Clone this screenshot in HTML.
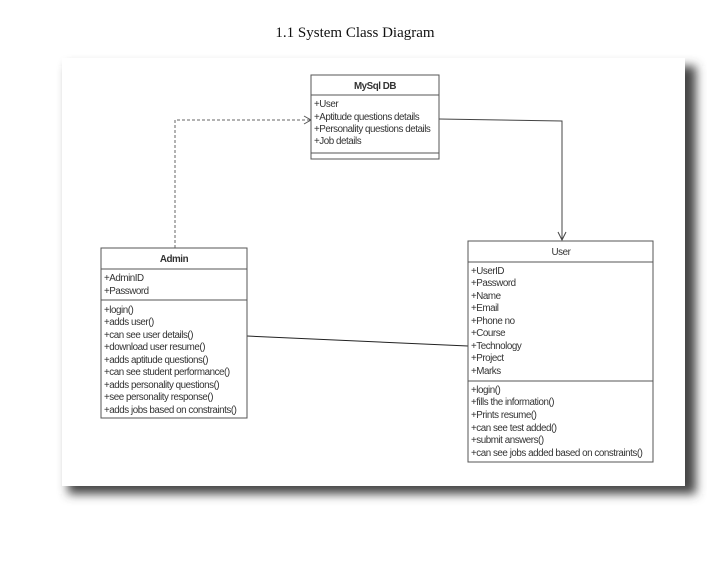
<!DOCTYPE html>
<html><head><style>
body{margin:0;background:#fff;width:707px;height:557px;overflow:hidden}
</style></head><body>
<svg width="707" height="557" xmlns="http://www.w3.org/2000/svg" font-family="Liberation Sans, Arial, sans-serif">
<defs>
<filter id="sh" x="-10%" y="-10%" width="130%" height="130%"><feGaussianBlur stdDeviation="5"/></filter>
</defs>
<text x="355" y="37" font-family="Liberation Serif, serif" font-size="15" text-anchor="middle" fill="#111">1.1 System Class Diagram</text>
<rect x="68" y="66" width="628" height="428" fill="#444" filter="url(#sh)"/>
<rect x="62" y="58" width="623" height="428" fill="#fff"/>
<g stroke="#333" fill="none">
<polyline points="175,248 175,120 310,120" stroke-dasharray="3,2" stroke="#666"/>
<polyline points="304,116 311,120 304,124" stroke="#555"/>
<polyline points="439,119 562,121 562,240" stroke="#444"/>
<polyline points="558,232 562,240 566,232" stroke="#444"/>
<line x1="247" y1="336" x2="468" y2="346" stroke="#222"/>
</g>
<g stroke="#555" fill="#fff" stroke-width="1">
<rect x="311" y="75" width="128" height="84"/>
<line x1="311" y1="95" x2="439" y2="95"/><line x1="311" y1="153" x2="439" y2="153"/>
<rect x="101" y="248" width="146" height="170"/>
<line x1="101" y1="269" x2="247" y2="269"/><line x1="101" y1="300" x2="247" y2="300"/>
<rect x="468" y="241" width="185" height="221"/>
<line x1="468" y1="262" x2="653" y2="262"/><line x1="468" y1="381" x2="653" y2="381"/>
</g>
<g font-size="9.8" fill="#333" letter-spacing="-0.45">
<text x="375" y="89" text-anchor="middle" font-weight="bold">MySql DB</text>
<text x="314" y="107">+User</text>
<text x="314" y="120">+Aptitude questions details</text>
<text x="314" y="132">+Personality questions details</text>
<text x="314" y="144">+Job details</text>
<text x="174" y="262" text-anchor="middle" font-weight="bold">Admin</text>
<text x="104" y="281">+AdminID</text>
<text x="104" y="294">+Password</text>
<text x="104" y="313">+login()</text>
<text x="104" y="325">+adds user()</text>
<text x="104" y="338">+can see user details()</text>
<text x="104" y="350">+download user resume()</text>
<text x="104" y="363">+adds aptitude questions()</text>
<text x="104" y="375">+can see student performance()</text>
<text x="104" y="388">+adds personality questions()</text>
<text x="104" y="400">+see personality response()</text>
<text x="104" y="413">+adds jobs based on constraints()</text>
<text x="561" y="255" text-anchor="middle">User</text>
<text x="471" y="274">+UserID</text>
<text x="471" y="286">+Password</text>
<text x="471" y="299">+Name</text>
<text x="471" y="311">+Email</text>
<text x="471" y="324">+Phone no</text>
<text x="471" y="336">+Course</text>
<text x="471" y="349">+Technology</text>
<text x="471" y="361">+Project</text>
<text x="471" y="374">+Marks</text>
<text x="471" y="393">+login()</text>
<text x="471" y="405">+fills the information()</text>
<text x="471" y="418">+Prints resume()</text>
<text x="471" y="431">+can see test added()</text>
<text x="471" y="443">+submit answers()</text>
<text x="471" y="456">+can see jobs added based on constraints()</text>
</g>
</svg>
</body></html>
